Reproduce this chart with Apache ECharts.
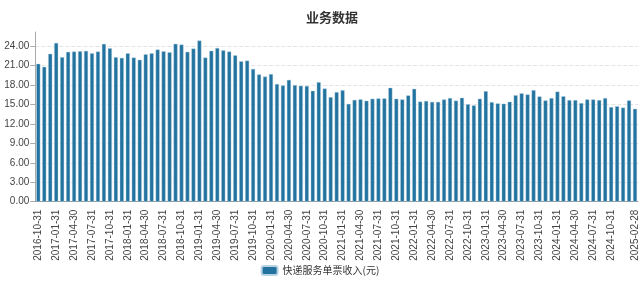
<!DOCTYPE html>
<html>
<head>
<meta charset="utf-8">
<script src="https://cdn.jsdelivr.net/npm/echarts@6/dist/echarts.min.js"></script>
<style>html,body{margin:0;padding:0;background:#fff;}#c{width:640px;height:284px;}</style>
</head>
<body>
<div id="c"></div>
<script>
var categories = [
'2016-10-31','2016-11-30','2016-12-31',
'2017-01-31','2017-02-28','2017-03-31','2017-04-30','2017-05-31','2017-06-30','2017-07-31','2017-08-31','2017-09-30','2017-10-31','2017-11-30','2017-12-31',
'2018-01-31','2018-02-28','2018-03-31','2018-04-30','2018-05-31','2018-06-30','2018-07-31','2018-08-31','2018-09-30','2018-10-31','2018-11-30','2018-12-31',
'2019-01-31','2019-02-28','2019-03-31','2019-04-30','2019-05-31','2019-06-30','2019-07-31','2019-08-31','2019-09-30','2019-10-31','2019-11-30','2019-12-31',
'2020-01-31','2020-02-29','2020-03-31','2020-04-30','2020-05-31','2020-06-30','2020-07-31','2020-08-31','2020-09-30','2020-10-31','2020-11-30','2020-12-31',
'2021-01-31','2021-02-28','2021-03-31','2021-04-30','2021-05-31','2021-06-30','2021-07-31','2021-08-31','2021-09-30','2021-10-31','2021-11-30','2021-12-31',
'2022-01-31','2022-02-28','2022-03-31','2022-04-30','2022-05-31','2022-06-30','2022-07-31','2022-08-31','2022-09-30','2022-10-31','2022-11-30','2022-12-31',
'2023-01-31','2023-02-28','2023-03-31','2023-04-30','2023-05-31','2023-06-30','2023-07-31','2023-08-31','2023-09-30','2023-10-31','2023-11-30','2023-12-31',
'2024-01-31','2024-02-29','2024-03-31','2024-04-30','2024-05-31','2024-06-30','2024-07-31','2024-08-31','2024-09-30','2024-10-31','2024-11-30','2024-12-31',
'2025-01-31','2025-02-28'
];
var revenuePerParcel = [
21.28,20.82,22.82,
24.50,22.31,23.13,23.18,23.23,23.28,22.92,23.18,24.36,23.69,22.31,22.20,
22.92,22.26,21.90,22.77,22.92,23.49,23.23,23.08,24.36,24.26,23.13,23.64,
24.87,22.26,23.30,23.72,23.39,23.18,22.60,21.67,21.78,20.49,19.65,19.32,
19.70,18.16,17.94,18.80,17.99,17.89,17.86,17.12,18.45,17.47,16.14,16.91,
17.21,15.09,15.71,15.80,15.58,15.89,15.94,15.94,17.58,15.89,15.78,16.40,
17.42,15.45,15.54,15.40,15.40,15.78,16.00,15.60,16.04,15.04,14.86,15.89,
17.06,15.37,15.17,15.12,15.42,16.43,16.73,16.55,17.22,16.24,15.63,15.99,
16.99,16.27,15.68,15.68,15.22,15.78,15.78,15.68,15.99,14.60,14.73,14.52,
15.63,14.34
];
var yTicks = {min: 0, max: 26.2, interval: 3};
var seriesName = '快递服务单票收入(元)';
var titleText = '业务数据';

var lastIdx = categories.length - 1;
function showLabel(i) { return (i % 3 === 0 && i !== lastIdx - 1) || i === lastIdx; }

var chart = echarts.init(document.getElementById('c'), null, {renderer: 'canvas'});
chart.setOption({
  animation: false,
  textStyle: {fontFamily: 'Liberation Sans, Noto Sans CJK SC, sans-serif'},
  title: {
    text: titleText, left: 301, top: 6,
    textStyle: {fontSize: 13, fontWeight: 'bold', color: '#333', fontFamily: 'Noto Sans CJK SC'}
  },
  legend: {
    data: [seriesName], bottom: 3, left: 'center',
    itemWidth: 16, itemHeight: 9, itemGap: 10,
    icon: 'roundRect',
    textStyle: {fontSize: 10, color: '#333', fontFamily: 'Noto Sans CJK SC'}
  },
  grid: {left: 35.3, right: 1.7, top: 32, bottom: 82.4, containLabel: false},
  xAxis: {
    type: 'category', data: categories,
    axisLine: {lineStyle: {color: '#999'}},
    axisTick: {alignWithLabel: true, interval: showLabel, lineStyle: {color: '#999'}},
    axisLabel: {rotate: 90, interval: showLabel, fontSize: 10, color: '#444', margin: 8}
  },
  yAxis: {
    type: 'value', min: yTicks.min, max: yTicks.max, interval: yTicks.interval,
    axisLine: {show: true, lineStyle: {color: '#aaa'}},
    axisTick: {show: true, lineStyle: {color: '#aaa'}},
    axisLabel: {fontSize: 10, color: '#444', showMaxLabel: false, margin: 6,
      formatter: function (v) { return v.toFixed(2); }},
    splitLine: {show: true, showMaxLine: false, lineStyle: {type: 'dashed', color: '#e3e3e3'}}
  },
  series: [{
    name: seriesName, type: 'bar', data: revenuePerParcel,
    barCategoryGap: '33%',
    itemStyle: {color: '#22739f', borderColor: '#b9d3e3', borderWidth: 0.4}
  }]
});
</script>
</body>
</html>
